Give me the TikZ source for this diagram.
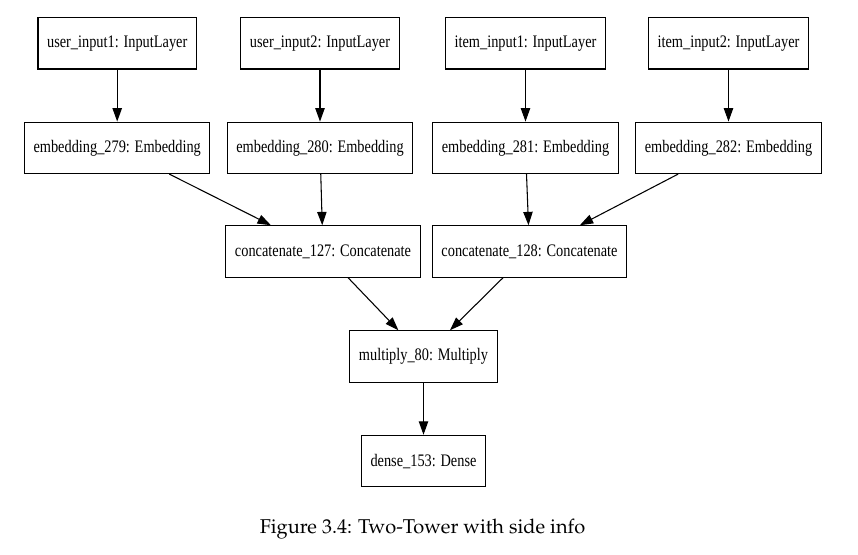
\documentclass[tikz,border=0pt]{standalone}
\usepackage[T1]{fontenc}
\usepackage{fontspec}
\usetikzlibrary{arrows.meta}
\newfontfamily\layerfont[FakeStretch=0.815]{Liberation Serif}
\newcommand\captionfont{\fontencoding{T1}\fontfamily{ppl}\selectfont}

\tikzset{%
  % Style of the layer boxes:
         layer/.style = {rectangle, draw = black, thick, minimum height=38.6pt, inner xsep=6.8pt, fill=white, font=\layerfont\fontsize{13.2}{15}\selectfont},
}

\begin{document}
\begin{tikzpicture}[x=0.75pt, y=-0.75pt, node distance=78.4pt, >={Triangle[length=10pt,width=7pt]}]
    \useasboundingbox (0,0) rectangle (858,555);

    % Draw nodes
    \node (uin1)     [layer] at (117.2,43.3)        {user\_input1: InputLayer};
    \node (uin2)     [layer] at (320,43.3)          {user\_input2: InputLayer};
    \node (iin1)     [layer] at (525.5,43.3)        {item\_input1: InputLayer};
    \node (iin2)     [layer] at (728.5,43.3)        {item\_input2: InputLayer};
    \node (emb279)   [layer, below of = uin1]       {embedding\_279: Embedding};
    \node (emb280)   [layer, below of = uin2]       {embedding\_280: Embedding};
    \node (emb281)   [layer, below of = iin1]       {embedding\_281: Embedding};
    \node (emb282)   [layer, below of = iin2]       {embedding\_282: Embedding};
    \node (cat127)   [layer] at (323,251.5)         {concatenate\_127: Concatenate};
    \node (cat128)   [layer] at (529.5,251.5)       {concatenate\_128: Concatenate};
    \node (mul80)    [layer] at (423.5,356.5)       {multiply\_80: Multiply};
    \node (dense153) [layer, below of = mul80]      {dense\_153: Dense};
    \node (caption)  [anchor=base, font=\captionfont\fontsize{15}{18}\selectfont] at (422.5,533.3) {Figure 3.4: Two-Tower with side info};

    % Draw arrows
    \draw[->,thick]           (uin1) -- (emb279);
    \draw[->,thick]           (uin2) -- (emb280);
    \draw[->,thick]           (iin1) -- (emb281);
    \draw[->,thick]           (iin2) -- (emb282);
    \draw[->,thick]           (emb279) -- (cat127);
    \draw[->,thick]           (emb280) -- (cat127);
    \draw[->,thick]           (emb281) -- (cat128);
    \draw[->,thick]           (emb282) -- (cat128);
    \draw[->,thick]           (cat127) -- (mul80);
    \draw[->,thick]           (cat128) -- (mul80);
    \draw[->,thick]           (mul80) -- (dense153);
\end{tikzpicture}
\end{document}
